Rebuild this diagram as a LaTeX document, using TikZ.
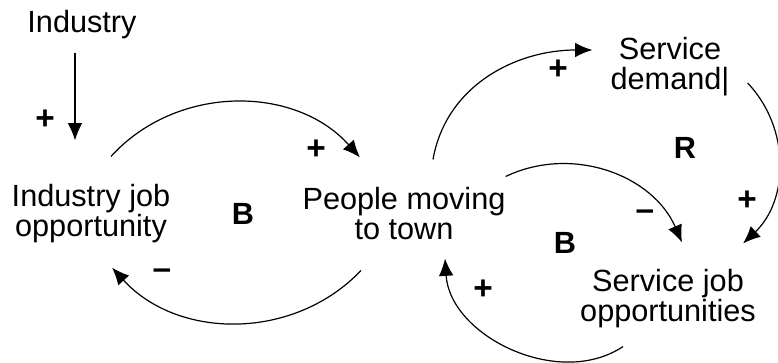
\documentclass[tikz,border=0pt]{standalone}
\usepackage{fontspec}
\setmainfont{Liberation Sans}
\usetikzlibrary{arrows.meta,calc}

\tikzset{
  var/.style={align=center,inner sep=0pt,font=\fontsize{23}{22.5}\selectfont},
  sign/.style={inner sep=0pt,font=\fontsize{25}{25}\selectfont\bfseries},
  loopname/.style={inner sep=0pt,font=\fontsize{23}{23}\selectfont\bfseries},
  link/.style={line width=0.9pt,-{Latex[length=13pt,width=11pt]}}
}

\begin{document}
\begin{tikzpicture}[x=0.75pt,y=0.75pt]
  \useasboundingbox (0,0) rectangle (778,-363);

  % variables
  \node[var] (ind) at (82,-25) {Industry};
  \node[var] (ijo) at (91,-214) {Industry job\\opportunity};
  \node[var] (pmt) at (404,-214) {People moving\\to town};
  \node[var] (sd) at (670,-67) {Service\\demand|};
  \node[var] (sjo) at (668,-299) {Service job\\opportunities};

  % left loop
  \draw[link] ($(ind.south)+(-7,-13)$) -- ($(ijo.north)+(-16,44)$);
  \draw[link] ($(ijo.north)+(20,28)$) to[bend left=48] ($(pmt.north)+(-44,30)$);
  \draw[link] ($(pmt.south)+(-43,-30)$) to[bend left=47] ($(ijo.south)+(21,-24)$);

  % right loops
  \draw[link] ($(pmt.north)+(29,28)$) to[out=80,in=180] ($(sd.west)+(-18,17)$);
  \draw[link] ($(sd.east)+(18,-16)$) to[bend left=45] ($(sjo.north east)+(-13,26)$);
  \draw[link] ($(pmt.north east)+(0,11)$) to[bend left=46] ($(sjo.north)+(14,27)$);
  \draw[link] ($(sjo.south)+(-45,-18)$) to[bend left=60] ($(pmt.south)+(41,-18)$);

  % polarities
  \node[sign] (p1) at (45,-120) {+};
  \node[sign] (p2) at (316,-150) {+};
  \node[sign] (m1) at (162,-274) {–};
  \node[sign] (p3) at (558,-70) {+};
  \node[sign] (p4) at (747,-201) {+};
  \node[sign] (m2) at (645,-215) {–};
  \node[sign] (p5) at (483,-290) {+};

  % loop names
  \node[loopname] (b1) at (243,-214) {B};
  \node[loopname] (r1) at (685,-148) {R};
  \node[loopname] (b2) at (565,-243) {B};
\end{tikzpicture}
\end{document}
